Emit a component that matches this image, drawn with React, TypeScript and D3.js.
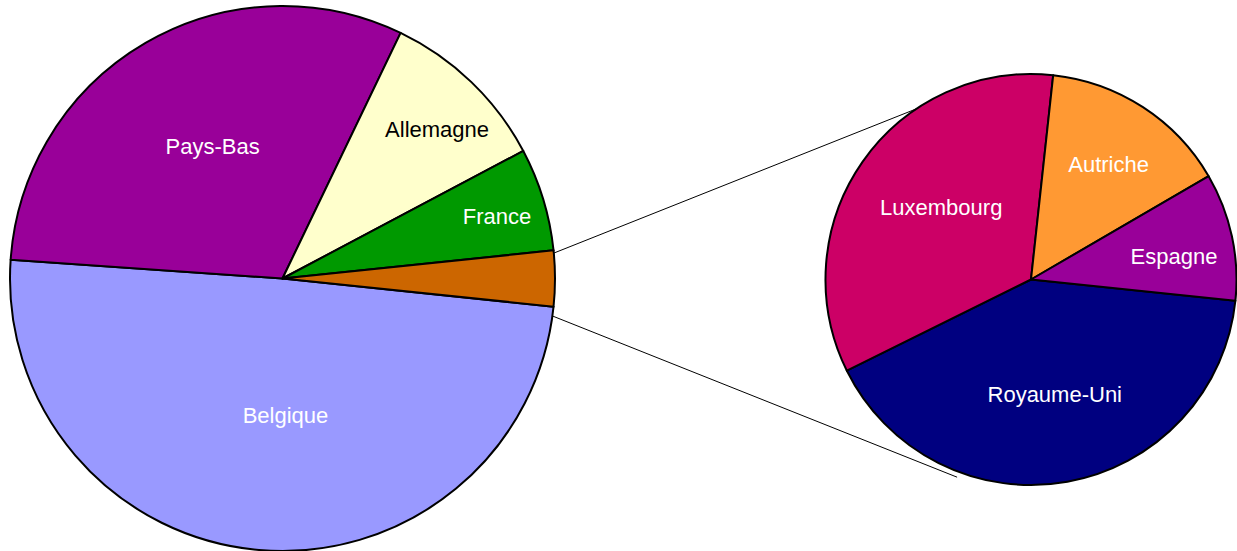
import React from "react";
import * as d3 from "d3";

// ---- data ----
const mainCategories = ["Belgique", "Pays-Bas", "Allemagne", "France", "Autres"];
const mainValues = [49.4, 31.0, 10.1, 6.1, 3.29];
const mainColors = ["#9999FF", "#990099", "#FFFFCC", "#009900", "#CC6600"];
const mainLabelColors = ["#FFFFFF", "#FFFFFF", "#000000", "#FFFFFF", "none"];

const subCategories = ["Royaume-Uni", "Luxembourg", "Autriche", "Espagne"];
const subValues = [1.35, 1.12, 0.49, 0.33];
const subColors = ["#000080", "#CC0066", "#FF9933", "#990099"];
const subLabelColors = ["#FFFFFF", "#FFFFFF", "#FFFFFF", "#FFFFFF"];

// ---- layout ----
const W = 1237;
const H = 551;
const main = { cx: 282.5, cy: 278.5, r: 272.5 };
const sub = { cx: 1031, cy: 279.5, r: 205.5 };
// label placement: [radius fraction, angle offset in degrees]
const mainLabelPos: [number, number][] = [[0.5, -6.2], [0.55, 2.4], [0.79, 2], [0.82, 0.75], [0, 0]];
const subLabelPos: [number, number][] = [[0.57, -1.5], [0.56, 3.8], [0.675, 1], [0.705, 3]];
const FONT = "'Liberation Sans', Arial, sans-serif";
const FS = 22;

const deg = Math.PI / 180;
const polar = (c: { cx: number; cy: number }, r: number, a: number) => [
  c.cx + r * Math.sin(a),
  c.cy - r * Math.cos(a),
];

export default function App() {
  const total = d3.sum(mainValues);
  const otherAngle = (mainValues[4] / total) * 2 * Math.PI;
  const start = Math.PI / 2 + otherAngle / 2;

  const pieGen = d3.pie<number>().sort(null).startAngle(start).endAngle(start + 2 * Math.PI);
  const mainArcs = pieGen(mainValues);
  const subArcs = pieGen(subValues);

  const arcMain = d3.arc<d3.PieArcDatum<number>>().innerRadius(0).outerRadius(main.r);
  const arcSub = d3.arc<d3.PieArcDatum<number>>().innerRadius(0).outerRadius(sub.r);

  // connector lines
  const up1 = polar(main, main.r, 84.65 * deg);
  const up2 = polar(sub, sub.r, -33.8 * deg);
  const lo1 = polar(main, main.r, 97.9 * deg);
  const lo2 = polar(sub, sub.r * 1.027, 200.5 * deg);

  const label = (
    c: { cx: number; cy: number; r: number },
    a: d3.PieArcDatum<number>,
    pos: [number, number]
  ) => polar(c, c.r * pos[0], (a.startAngle + a.endAngle) / 2 + pos[1] * deg);

  return (
    <svg
      width={W}
      height={H}
      style={{ position: "absolute", left: 0, top: 0, background: "#fff" }}
    >
      <line x1={up1[0]} y1={up1[1]} x2={up2[0]} y2={up2[1]} stroke="#000" strokeWidth={1} />
      <line x1={lo1[0]} y1={lo1[1]} x2={lo2[0]} y2={lo2[1]} stroke="#000" strokeWidth={1} />
      <g transform={`translate(${main.cx},${main.cy})`}>
        {mainArcs.map((a, i) => (
          <path
            key={mainCategories[i]}
            d={arcMain(a) || ""}
            fill={mainColors[i]}
            stroke="#000"
            strokeWidth={2}
            strokeLinejoin="round"
          />
        ))}
      </g>
      <g transform={`translate(${sub.cx},${sub.cy})`}>
        {subArcs.map((a, i) => (
          <path
            key={subCategories[i]}
            d={arcSub(a) || ""}
            fill={subColors[i]}
            stroke="#000"
            strokeWidth={2}
            strokeLinejoin="round"
          />
        ))}
      </g>
      {mainArcs.map((a, i) => {
        if (mainLabelColors[i] === "none") return null;
        const [x, y] = label(main, a, mainLabelPos[i]);
        return (
          <text
            key={"ml" + i}
            x={x}
            y={y}
            dy="0.36em"
            textAnchor="middle"
            fontFamily={FONT}
            fontSize={FS}
            fill={mainLabelColors[i]}
          >
            {mainCategories[i]}
          </text>
        );
      })}
      {subArcs.map((a, i) => {
        const [x, y] = label(sub, a, subLabelPos[i]);
        return (
          <text
            key={"sl" + i}
            x={x}
            y={y}
            dy="0.36em"
            textAnchor="middle"
            fontFamily={FONT}
            fontSize={FS}
            fill={subLabelColors[i]}
          >
            {subCategories[i]}
          </text>
        );
      })}
    </svg>
  );
}
